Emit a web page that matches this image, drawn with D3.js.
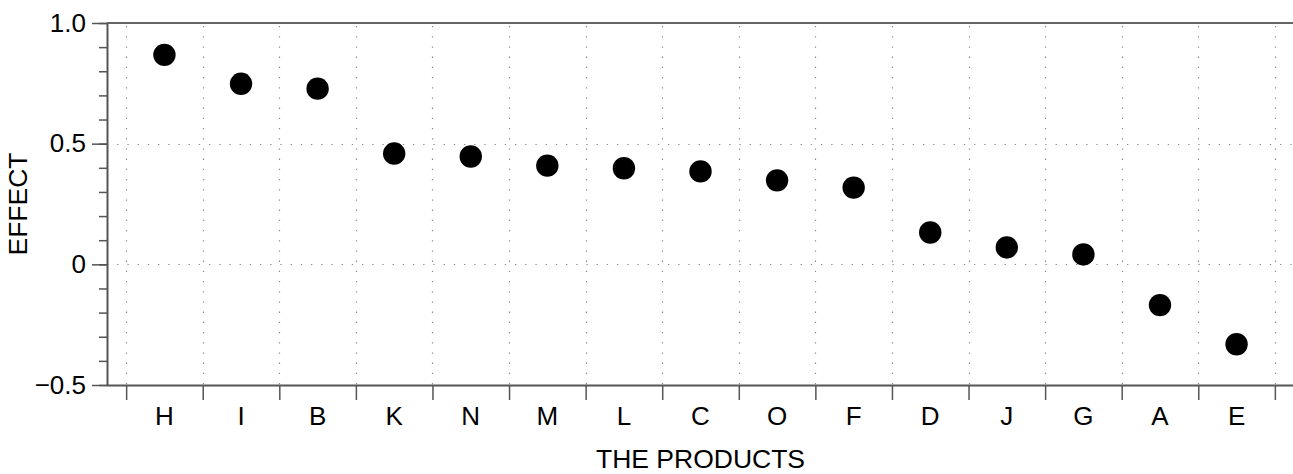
<!DOCTYPE html>
<html>
<head>
<meta charset="utf-8">
<script src="https://cdn.jsdelivr.net/npm/d3@7"></script>
<style>
html,body{margin:0;padding:0;background:#fff;}
svg{display:block;}
text{font-family:"Liberation Sans",Arial,Helvetica,sans-serif;fill:#000;}
</style>
</head>
<body>
<svg id="chart" width="1293" height="474"></svg>
<script>
const categories = ["H","I","B","K","N","M","L","C","O","F","D","J","G","A","E"];
const effects = [0.868, 0.748, 0.728, 0.459, 0.447, 0.409, 0.398, 0.385, 0.348, 0.318, 0.132, 0.070, 0.041, -0.169, -0.331];
const yMajorTicks = [-0.5, 0, 0.5, 1.0];
const yTickLabels = ["\u22120.5", "0", "0.5", "1.0"];
const yMinorTicks = d3.range(-5, 11).map(i => i / 10);
const xTitle = "THE PRODUCTS";
const yTitle = "EFFECT";

(function () {
const svg = d3.select("#chart");
const pLeft = 107, pRight = 1294, pTop = 23, pBottom = 385;

const x = d3.scaleLinear().domain([0.25, 15.75]).range([pLeft, pRight]);
const y = d3.scaleLinear().domain([-0.5, 1.0]).range([pBottom, pTop]);
const separators = d3.range(0, categories.length + 1).map(i => i + 0.5);

// grid
const grid = svg.append("g").attr("stroke", "#8a8a8a").attr("stroke-width", 1.2)
  .attr("stroke-dasharray", "1.3,8.9");
grid.selectAll("line.v").data(separators).join("line").attr("class", "v")
  .attr("x1", d => Math.round(x(d)) + 0.5).attr("x2", d => Math.round(x(d)) + 0.5)
  .attr("y1", pTop + 3).attr("y2", pBottom);
grid.selectAll("line.h").data([0, 0.5]).join("line").attr("class", "h")
  .attr("x1", pLeft).attr("x2", pRight)
  .attr("y1", d => Math.round(y(d)) + 0.5).attr("y2", d => Math.round(y(d)) + 0.5);

// top frame line
svg.append("line").attr("x1", pLeft).attr("x2", 1293).attr("y1", pTop).attr("y2", pTop)
  .attr("stroke", "#666").attr("stroke-width", 2);

// y axis: minor ticks
const yMinorAxis = d3.axisLeft(y).tickValues(yMinorTicks).tickSize(8).tickFormat("");
const gMinor = svg.append("g").attr("transform", `translate(${pLeft},0)`).call(yMinorAxis);
gMinor.select(".domain").remove();
gMinor.selectAll("line").attr("stroke", "#555").attr("stroke-width", 1.5);

// y axis: major ticks
const yAxis = d3.axisLeft(y).tickValues(yMajorTicks).tickSize(15).tickPadding(6)
  .tickFormat((d, i) => yTickLabels[i]);
const gy = svg.append("g").attr("transform", `translate(${pLeft},0)`).call(yAxis);
gy.select(".domain").attr("stroke", "#555").attr("stroke-width", 2)
  .attr("d", `M0.5,${pTop}V${pBottom}`);
gy.selectAll("line").attr("stroke", "#555").attr("stroke-width", 1.5);
gy.selectAll("text").attr("font-size", 26).attr("font-family", "Liberation Sans, Arial, sans-serif")
  .attr("fill", "#000");

// x axis: separator ticks
const xAxis = d3.axisBottom(x).tickValues(separators).tickSize(15).tickFormat("");
const gx = svg.append("g").attr("transform", `translate(0,${pBottom})`).call(xAxis);
gx.select(".domain").attr("stroke", "#555").attr("stroke-width", 2)
  .attr("d", `M${pLeft},0.5H1293`);
gx.selectAll("line").attr("stroke", "#555").attr("stroke-width", 1.5);

// category labels
svg.append("g").selectAll("text").data(categories).join("text")
  .attr("x", (d, i) => x(i + 1)).attr("y", 425)
  .attr("text-anchor", "middle").attr("font-size", 26).text(d => d);

// points
svg.append("g").selectAll("circle").data(effects).join("circle")
  .attr("cx", (d, i) => x(i + 1)).attr("cy", d => y(d)).attr("r", 11.2)
  .attr("fill", "#000");

// titles
svg.append("text").attr("x", (x(1) + x(15)) / 2).attr("y", 468)
  .attr("text-anchor", "middle").attr("font-size", 26.5).text(xTitle);
svg.append("text").attr("transform", `translate(27,${(pTop + pBottom) / 2}) rotate(-90)`)
  .attr("text-anchor", "middle").attr("font-size", 26.5).text(yTitle);
})();
</script>
</body>
</html>
